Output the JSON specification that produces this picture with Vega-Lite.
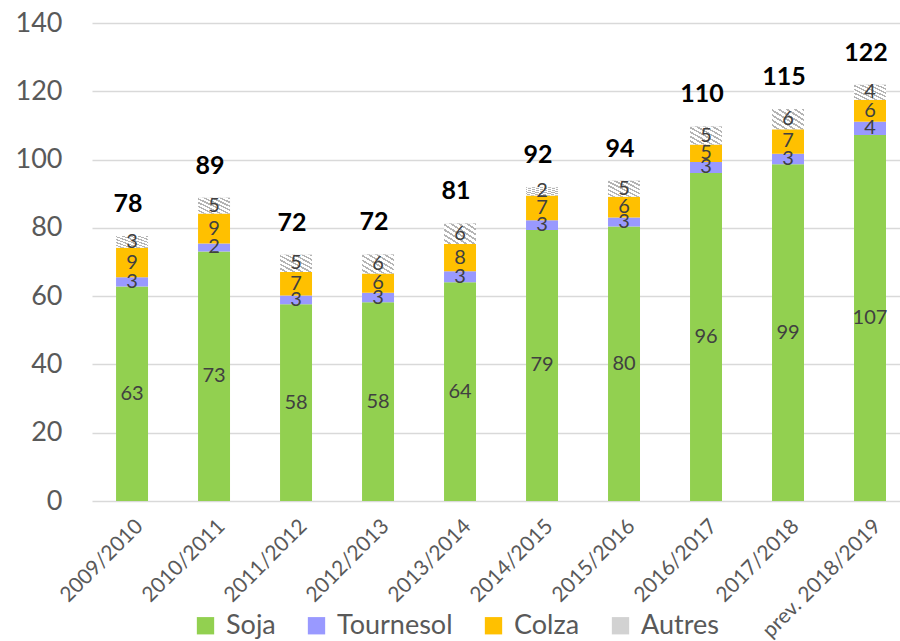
{
  "$schema": "https://vega.github.io/schema/vega-lite/v6.json",
  "width": 808,
  "height": 478,
  "autosize": {"type": "none"},
  "padding": {"left": 92, "top": 23, "right": 0, "bottom": 140},
  "background": "white",
  "config": {"view": {"stroke": null}, "font": "Lato"},
  "data": {
    "values": [
      {"season": "2009/2010", "crop": "Soja", "value": 62.8},
      {"season": "2009/2010", "crop": "Tournesol", "value": 2.7},
      {"season": "2009/2010", "crop": "Colza", "value": 8.7},
      {"season": "2009/2010", "crop": "Autres", "value": 3.4},
      {"season": "2010/2011", "crop": "Soja", "value": 73.1},
      {"season": "2010/2011", "crop": "Tournesol", "value": 2.3},
      {"season": "2010/2011", "crop": "Colza", "value": 8.8},
      {"season": "2010/2011", "crop": "Autres", "value": 4.6},
      {"season": "2011/2012", "crop": "Soja", "value": 57.6},
      {"season": "2011/2012", "crop": "Tournesol", "value": 2.6},
      {"season": "2011/2012", "crop": "Colza", "value": 6.9},
      {"season": "2011/2012", "crop": "Autres", "value": 5.0},
      {"season": "2012/2013", "crop": "Soja", "value": 58.2},
      {"season": "2012/2013", "crop": "Tournesol", "value": 2.8},
      {"season": "2012/2013", "crop": "Colza", "value": 5.6},
      {"season": "2012/2013", "crop": "Autres", "value": 5.6},
      {"season": "2013/2014", "crop": "Soja", "value": 64.1},
      {"season": "2013/2014", "crop": "Tournesol", "value": 3.2},
      {"season": "2013/2014", "crop": "Colza", "value": 8.0},
      {"season": "2013/2014", "crop": "Autres", "value": 6.0},
      {"season": "2014/2015", "crop": "Soja", "value": 79.4},
      {"season": "2014/2015", "crop": "Tournesol", "value": 2.8},
      {"season": "2014/2015", "crop": "Colza", "value": 7.3},
      {"season": "2014/2015", "crop": "Autres", "value": 2.4},
      {"season": "2015/2016", "crop": "Soja", "value": 80.4},
      {"season": "2015/2016", "crop": "Tournesol", "value": 2.6},
      {"season": "2015/2016", "crop": "Colza", "value": 6.1},
      {"season": "2015/2016", "crop": "Autres", "value": 4.7},
      {"season": "2016/2017", "crop": "Soja", "value": 96.1},
      {"season": "2016/2017", "crop": "Tournesol", "value": 3.2},
      {"season": "2016/2017", "crop": "Colza", "value": 5.1},
      {"season": "2016/2017", "crop": "Autres", "value": 5.3},
      {"season": "2017/2018", "crop": "Soja", "value": 98.6},
      {"season": "2017/2018", "crop": "Tournesol", "value": 3.1},
      {"season": "2017/2018", "crop": "Colza", "value": 7.2},
      {"season": "2017/2018", "crop": "Autres", "value": 5.9},
      {"season": "prev. 2018/2019", "crop": "Soja", "value": 107.2},
      {"season": "prev. 2018/2019", "crop": "Tournesol", "value": 3.9},
      {"season": "prev. 2018/2019", "crop": "Colza", "value": 6.4},
      {"season": "prev. 2018/2019", "crop": "Autres", "value": 4.4}
    ]
  },
  "transform": [
    {"calculate": "indexof(['Soja','Tournesol','Colza','Autres'], datum.crop)", "as": "k"}
  ],
  "encoding": {
    "x": {
      "field": "season",
      "type": "nominal",
      "sort": null,
      "scale": {"paddingInner": 0.61, "paddingOuter": 0.232, "align": 0.632},
      "axis": {
        "title": null,
        "labelAngle": -45,
        "labelFontSize": 21,
        "labelColor": "#595959",
        "labelPadding": 14,
        "ticks": false,
        "domain": false,
        "labelOverlap": false
      }
    }
  },
  "layer": [
    {
      "mark": {"type": "bar"},
      "encoding": {
        "y": {
          "field": "value",
          "type": "quantitative",
          "stack": "zero",
          "scale": {"domain": [0, 140], "nice": false},
          "axis": {
            "title": null,
            "values": [0, 20, 40, 60, 80, 100, 120, 140],
            "labelFontSize": 27,
            "labelColor": "#595959",
            "labelPadding": 30,
            "ticks": false,
            "domain": false,
            "gridColor": "#d9d9d9",
            "gridWidth": 1.5
          }
        },
        "color": {
          "field": "crop",
          "type": "nominal",
          "scale": {
            "domain": ["Soja", "Tournesol", "Colza", "Autres"],
            "range": ["#92d050", "#9999ff", "#ffc000", "#d2d2d2"]
          },
          "legend": {
            "title": null,
            "orient": "none",
            "direction": "horizontal",
            "legendX": 100,
            "legendY": 589,
            "labelFontSize": 27,
            "labelColor": "#595959",
            "symbolType": "square",
            "symbolSize": 300,
            "symbolStrokeWidth": 0,
            "labelOffset": 7,
            "columnPadding": 27
          }
        },
        "order": {"field": "k", "type": "quantitative"}
      }
    },
    {
      "mark": {
        "type": "bar",
        "fill": {
          "gradient": "linear",
          "x1": 0, "y1": 1, "x2": 1, "y2": 0,
          "stops": [
            {"offset": 0, "color": "#ffffff"},
            {"offset": 0.075, "color": "#ffffff"},
            {"offset": 0.075, "color": "#b4b4b4"},
            {"offset": 0.125, "color": "#b4b4b4"},
            {"offset": 0.125, "color": "#ffffff"},
            {"offset": 0.2, "color": "#ffffff"},
            {"offset": 0.2, "color": "#b4b4b4"},
            {"offset": 0.25, "color": "#b4b4b4"},
            {"offset": 0.25, "color": "#ffffff"},
            {"offset": 0.325, "color": "#ffffff"},
            {"offset": 0.325, "color": "#b4b4b4"},
            {"offset": 0.375, "color": "#b4b4b4"},
            {"offset": 0.375, "color": "#ffffff"},
            {"offset": 0.45, "color": "#ffffff"},
            {"offset": 0.45, "color": "#b4b4b4"},
            {"offset": 0.5, "color": "#b4b4b4"},
            {"offset": 0.5, "color": "#ffffff"},
            {"offset": 0.575, "color": "#ffffff"},
            {"offset": 0.575, "color": "#b4b4b4"},
            {"offset": 0.625, "color": "#b4b4b4"},
            {"offset": 0.625, "color": "#ffffff"},
            {"offset": 0.7, "color": "#ffffff"},
            {"offset": 0.7, "color": "#b4b4b4"},
            {"offset": 0.75, "color": "#b4b4b4"},
            {"offset": 0.75, "color": "#ffffff"},
            {"offset": 0.825, "color": "#ffffff"},
            {"offset": 0.825, "color": "#b4b4b4"},
            {"offset": 0.875, "color": "#b4b4b4"},
            {"offset": 0.875, "color": "#ffffff"},
            {"offset": 0.95, "color": "#ffffff"},
            {"offset": 0.95, "color": "#b4b4b4"},
            {"offset": 1, "color": "#b4b4b4"}
          ]
        }
      },
      "encoding": {
        "y": {"field": "value", "type": "quantitative", "stack": "zero"},
        "detail": {"field": "crop"},
        "order": {"field": "k", "type": "quantitative"},
        "opacity": {"condition": {"test": "datum.crop === 'Autres'", "value": 1}, "value": 0}
      }
    },
    {
      "mark": {"type": "text", "fontSize": 20, "color": "#404040"},
      "encoding": {
        "y": {"field": "value", "type": "quantitative", "stack": "zero", "bandPosition": 0.5},
        "detail": {"field": "crop"},
        "order": {"field": "k", "type": "quantitative"},
        "text": {"field": "value", "type": "quantitative", "format": ".0f"}
      }
    },
    {
      "mark": {"type": "text", "fontSize": 25, "fontWeight": "bold", "color": "#000000", "dy": -32, "dx": -4},
      "encoding": {
        "y": {"aggregate": "sum", "field": "value", "type": "quantitative"},
        "text": {"aggregate": "sum", "field": "value", "type": "quantitative", "format": ".0f"}
      }
    }
  ]
}
